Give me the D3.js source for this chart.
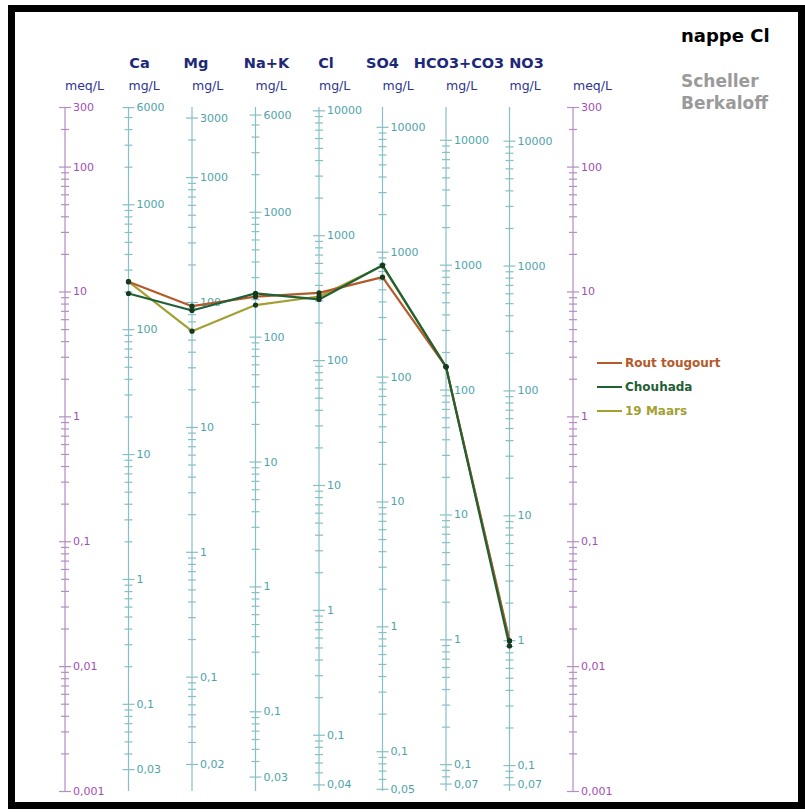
<!DOCTYPE html>
<html>
<head>
<meta charset="utf-8">
<script src="https://cdn.jsdelivr.net/npm/d3@7"></script>
<style>
  html, body { margin: 0; padding: 0; background: #fff; }
  svg { display: block; font-family: "DejaVu Sans", Verdana, sans-serif; }
</style>
</head>
<body>
<svg id="chart" width="805" height="812"></svg>
<script>
// ---------- DATA ----------
const categories = ["Ca", "Mg", "Na+K", "Cl", "SO4", "HCO3+CO3", "NO3"];
const eqWeights = [20.04, 12.15, 23, 35.45, 48.03, 61.02, 62];   // mg per meq
const seriesNames = ["19 Maars", "Rout tougourt", "Chouhada"];
const maarsValues = [240, 58.4, 179, 323, 770, 152, 0.99];       // mg/L
const routValues = [240, 92.6, 209, 345, 625, 152, 0.99];        // mg/L
const chouhadaValues = [193, 85.6, 222, 306, 780, 152, 0.90];    // mg/L
const seriesColors = ["#a3a033", "#b5592a", "#1f6034"];
const legendOrder = ["Rout tougourt", "Chouhada", "19 Maars"];

const meqDomain = [0.001, 300];
const meqLabels = [300, 100, 10, 1, 0.1, 0.01, 0.001];
const caLabels = [6000, 1000, 100, 10, 1, 0.1, 0.03];
const mgLabels = [3000, 1000, 100, 10, 1, 0.1, 0.02];
const nakLabels = [6000, 1000, 100, 10, 1, 0.1, 0.03];
const clLabels = [10000, 1000, 100, 10, 1, 0.1, 0.04];
const so4Labels = [10000, 1000, 100, 10, 1, 0.1, 0.05];
const hco3Labels = [10000, 1000, 100, 10, 1, 0.1, 0.07];
const no3Labels = [10000, 1000, 100, 10, 1, 0.1, 0.07];
const ionLabels = [caLabels, mgLabels, nakLabels, clLabels, so4Labels, hco3Labels, no3Labels];

// ---------- LAYOUT ----------
const svg = d3.select("#chart");
const purpleText = "#a24fb3", purpleLine = "#b48ec2";
const tealText = "#4ea3aa", tealLine = "#86c0c6";
const navy = "#1e2878";

// frame
svg.append("rect").attr("x", 11.5).attr("y", 8.5).attr("width", 790).attr("height", 797)
  .attr("fill", "none").attr("stroke", "#000").attr("stroke-width", 7);

const axisCount = categories.length + 2;
const xPos = d3.scalePoint().domain(d3.range(axisCount)).range([65, 573]);
const yMeq = d3.scaleLog().domain(meqDomain).range([791, 107]);

function fmt(v) { return String(v).replace(".", ","); }
function allTicks(lo, hi) {
  const out = [];
  for (let k = Math.floor(Math.log10(lo)) - 1; k <= Math.ceil(Math.log10(hi)); k++) {
    for (let n = 1; n <= 9; n++) {
      const v = +(n * Math.pow(10, k)).toPrecision(6);
      if (v >= lo * 0.9999 && v <= hi * 1.0001) out.push(v);
    }
  }
  return out;
}
function isLabel(labels, v) { return labels.some(l => Math.abs(l - v) / l < 1e-6); }

function drawAxis(x, scale, labels, lineColor, textColor, unit) {
  const dom = scale.domain();
  const ticks = allTicks(dom[0], dom[1]);
  const g = svg.append("g").attr("transform", `translate(${x},0)`);
  const ax = d3.axisRight(scale).tickValues(ticks).tickSizeOuter(0)
    .tickFormat(v => isLabel(labels, v) ? fmt(v) : "");
  g.call(ax);
  g.select(".domain").attr("stroke", lineColor).attr("stroke-width", 1.2)
    .attr("d", `M0,${scale.range()[0]}V${scale.range()[1]}`);
  g.selectAll(".tick line")
    .attr("stroke", lineColor).attr("stroke-width", 1.2)
    .attr("x1", v => isLabel(labels, v) ? -6 : -4)
    .attr("x2", v => isLabel(labels, v) ? 6 : 4);
  g.selectAll(".tick text")
    .attr("x", 8).attr("fill", textColor)
    .attr("font-family", "DejaVu Sans").attr("font-size", 11);
  svg.append("text").attr("x", x).attr("y", 90).text(unit)
    .attr("fill", "#2c3590").attr("font-size", 12.5);
}

// meq axes (left and right)
drawAxis(xPos(0), yMeq, meqLabels, purpleLine, purpleText, "meq/L");
drawAxis(xPos(axisCount - 1), yMeq, meqLabels, purpleLine, purpleText, "meq/L");

// ion axes
const headerDx = [11, 4, 11, 7, 0, 13, 17];
const ionScales = categories.map((c, i) =>
  d3.scaleLog().domain([meqDomain[0] * eqWeights[i], meqDomain[1] * eqWeights[i]]).range([791, 107]));
categories.forEach((c, i) => {
  const x = xPos(i + 1);
  drawAxis(x, ionScales[i], ionLabels[i], tealLine, tealText, "mg/L");
  svg.append("text").attr("x", x + headerDx[i]).attr("y", 68).attr("text-anchor", "middle")
    .attr("font-weight", "bold").attr("font-size", 14.5).attr("fill", navy).text(c);
});

// series lines
const seriesValues = [maarsValues, routValues, chouhadaValues];
const line = d3.line().x(d => d[0]).y(d => d[1]);
seriesValues.forEach((vals, s) => {
  const pts = vals.map((v, i) => [xPos(i + 1), ionScales[i](v)]);
  svg.append("path").attr("d", line(pts)).attr("fill", "none")
    .attr("stroke", seriesColors[s]).attr("stroke-width", 2.2).attr("stroke-linejoin", "round");
});
seriesValues.forEach((vals, s) => {
  svg.append("g").selectAll("circle").data(vals).join("circle")
    .attr("cx", (v, i) => xPos(i + 1)).attr("cy", (v, i) => ionScales[i](v))
    .attr("r", 2.6).attr("fill", "#163a1e");
});

// legend
const legend = svg.append("g");
legendOrder.forEach((name, j) => {
  const s = seriesNames.indexOf(name);
  const y = 363 + j * 24;
  legend.append("line").attr("x1", 597).attr("x2", 622).attr("y1", y).attr("y2", y)
    .attr("stroke", seriesColors[s]).attr("stroke-width", 2);
  legend.append("text").attr("x", 625).attr("y", y).attr("dy", "0.35em")
    .attr("font-weight", "bold").attr("font-size", 12).attr("fill", seriesColors[s]).text(name);
});

// titles
svg.append("text").attr("x", 681).attr("y", 42).attr("font-weight", "bold")
  .attr("font-size", 18).attr("fill", "#000").text("nappe Cl");
svg.append("text").attr("x", 681).attr("y", 87).attr("font-weight", "bold")
  .attr("font-size", 17).attr("fill", "#9a9a9a").text("Scheller");
svg.append("text").attr("x", 681).attr("y", 109).attr("font-weight", "bold")
  .attr("font-size", 17).attr("fill", "#9a9a9a").text("Berkaloff");
</script>
</body>
</html>
